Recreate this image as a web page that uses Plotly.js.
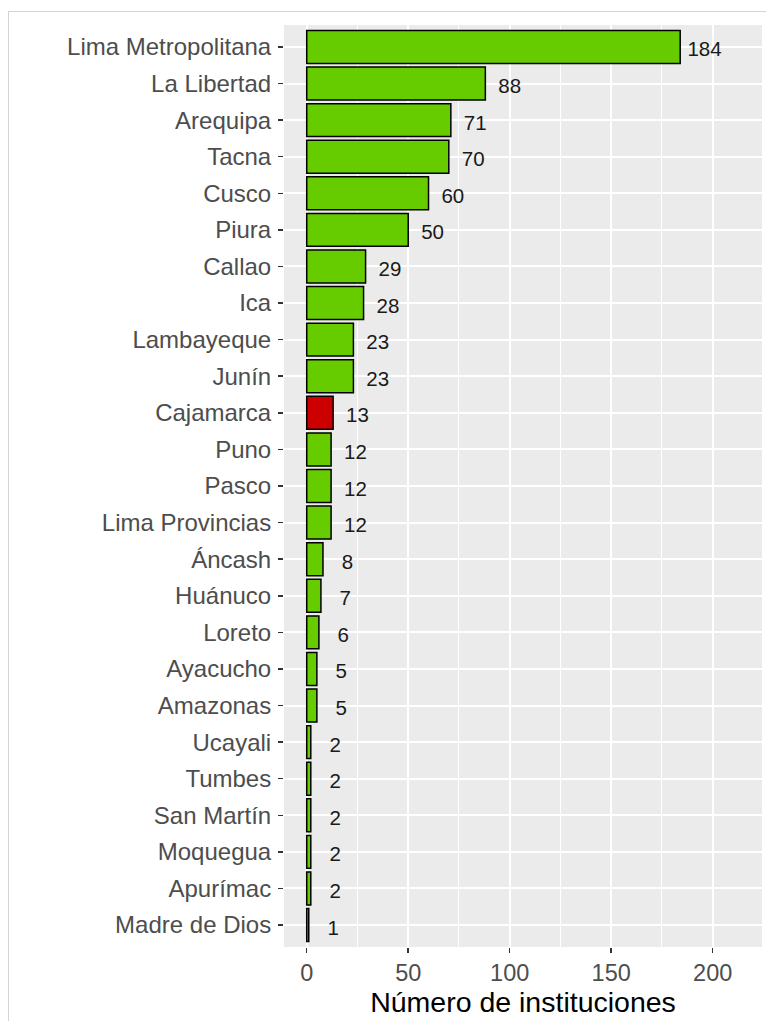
<!DOCTYPE html>
<html>
<head>
<meta charset="utf-8">
<script src="https://cdn.plot.ly/plotly-3.0.1.min.js"></script>
<style>
html,body{margin:0;padding:0;background:#fff;}
#wrap{position:relative;width:766px;height:1021px;overflow:hidden;}
#chart{position:absolute;left:0;top:0;width:766px;height:1021px;}
#frame{position:absolute;left:8px;top:11px;width:800px;height:1100px;border:1.5px solid #d4d4d4;pointer-events:none;}
</style>
</head>
<body>
<div id="wrap">
<div id="chart"></div>
<div id="frame"></div>
</div>
<script>
const regions = ["Lima Metropolitana","La Libertad","Arequipa","Tacna","Cusco","Piura","Callao","Ica","Lambayeque","Junín","Cajamarca","Puno","Pasco","Lima Provincias","Áncash","Huánuco","Loreto","Ayacucho","Amazonas","Ucayali","Tumbes","San Martín","Moquegua","Apurímac","Madre de Dios"];
const counts = [184,88,71,70,60,50,29,28,23,23,13,12,12,12,8,7,6,5,5,2,2,2,2,2,1];
const highlight = "Cajamarca";
const xTicks = [0,50,100,150,200];

const colors = regions.map(r => r === highlight ? "#CC0000" : "#66CC00");
const labelOffset = 12;
const labelShift = 0.12;

const bars = {
  type: "bar",
  orientation: "h",
  y: regions,
  x: counts,
  width: 0.9,
  marker: {color: colors, line: {color: "#000", width: 1.5}},
  hoverinfo: "none"
};
const labels = {
  type: "scatter",
  mode: "text",
  y: regions,
  yaxis: "y2",
  x: counts.map(v => v + labelOffset),
  text: counts.map(String),
  textposition: "middle center",
  textfont: {family: "Liberation Sans, Arial, sans-serif", size: 20.5, color: "#1a1a1a"},
  hoverinfo: "none"
};

const layout = {
  width: 766, height: 1021,
  margin: {l: 284, r: 4, t: 25, b: 74},
  paper_bgcolor: "#ffffff",
  plot_bgcolor: "#EBEBEB",
  showlegend: false,
  font: {family: "Liberation Sans, Arial, sans-serif"},
  xaxis: {
    range: [-11.2, 224.3],
    tickvals: xTicks,
    ticktext: xTicks.map(String),
    showgrid: true, gridcolor: "#ffffff", gridwidth: 2,
    minor: {dtick: 25, tick0: 25, showgrid: true, gridcolor: "#ffffff", gridwidth: 1},
    zeroline: false,
    ticks: "outside", ticklen: 5, tickwidth: 1.5, tickcolor: "#333333",
    tickfont: {size: 23.5, color: "#4D4D4D"},
    showline: false,
    title: {text: "Número de instituciones", font: {size: 28.5, color: "#000"}, standoff: 4},
    fixedrange: true
  },
  yaxis: {
    type: "category",
    categoryorder: "array",
    categoryarray: regions,
    range: [24.6, -0.6],
    showgrid: true, gridcolor: "#ffffff", gridwidth: 2,
    zeroline: false,
    ticks: "outside", ticklen: 5, tickwidth: 1.5, tickcolor: "#333333",
    tickfont: {size: 24, color: "#4D4D4D"},
    ticklabelstandoff: 2,
    showline: false,
    fixedrange: true
  },
  yaxis2: {
    type: "category",
    categoryorder: "array",
    categoryarray: regions,
    overlaying: "y",
    range: [24.6 - labelShift, -0.6 - labelShift],
    showgrid: false, zeroline: false, showticklabels: false, ticks: "",
    fixedrange: true
  }
};

Plotly.newPlot("chart", [bars, labels], layout, {staticPlot: true, displayModeBar: false});
</script>
</body>
</html>
